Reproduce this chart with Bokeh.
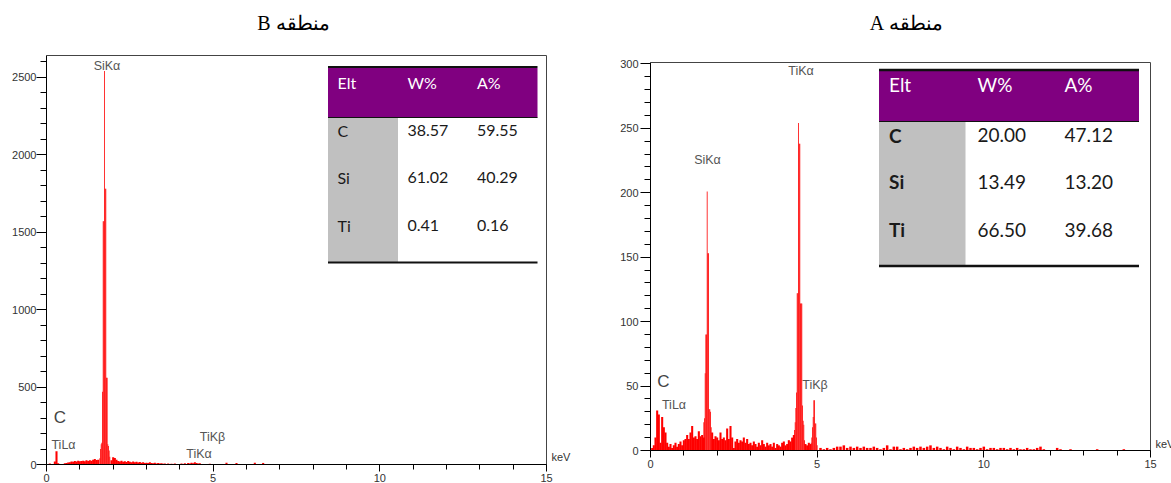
import numpy as np
from bokeh.plotting import figure
from bokeh.layouts import row
from bokeh.models import Range1d, SingleIntervalTicker
from bokeh.core.properties import value
from bokeh.embed import file_html
from bokeh.resources import INLINE

# ---------------- data ----------------
titles = ["منطقه B", "منطقه A"]
table_header = ["Elt", "W%", "A%"]
elements = ["C", "Si", "Ti"]
b_wt = ["38.57", "61.02", "0.41"]
b_at = ["59.55", "40.29", "0.16"]
a_wt = ["20.00", "13.49", "66.50"]
a_at = ["47.12", "13.20", "39.68"]

x_label = "keV"
x_max = 15
b_y_max = 2640
a_y_max = 301

# spectrum B (region B): background channels every 0.05 keV from 0
b_bg_step = 0.05
b_bg_counts = [0, 0, 6, 4, 0, 20, 86, 8, 0, 4, 3, 8, 10, 13, 15, 20, 17, 22, 19, 24,
               21, 23, 25, 21, 27, 23, 28, 25, 30, 36, 29, 30, 0, 0, 0, 0, 0, 0, 0, 28,
               46, 42, 30, 22, 20, 25, 18, 21, 16, 22, 18, 15, 19, 14, 17, 13, 16, 12, 14, 10,
               12, 9, 14, 10, 8, 11, 7, 9, 6, 8, 5, 7, 4, 6, 3, 5, 3, 6, 2, 4,
               3, 6, 2, 8, 4, 10, 6, 12, 8, 14, 10, 6, 8, 3, 0, 2, 0, 0, 5, 0,
               0, 0, 3, 0, 0, 0, 0, 0, 12, 0, 0, 0, 0, 0, 10, 0, 0, 0, 0, 0,
               0, 0, 0, 0, 0, 12, 0, 0, 0, 0, 10]
b_peak_energy = [1.60, 1.62, 1.64, 1.66, 1.68, 1.70, 1.72, 1.74, 1.76, 1.78,
                 1.80, 1.82, 1.84, 1.86, 1.88, 1.90]
b_peak_counts = [40, 100, 130, 140, 470, 1570, 1570, 2540, 1780, 1780,
                 560, 560, 130, 120, 90, 50]

# spectrum A (region A)
a_bg_step = 0.05
a_bg_counts = [0, 2, 4, 10, 31, 28, 6, 26, 18, 14, 6, 3, 5, 2, 4, 6, 3, 5, 7, 4,
               8, 9, 12, 9, 14, 19, 10, 11, 9, 15, 11, 12, 10, 0, 0, 0, 0, 14, 9, 11,
               10, 8, 14, 9, 10, 8, 17, 9, 19, 10, 2, 7, 9, 6, 8, 7, 10, 6, 9, 5,
               6, 4, 7, 5, 3, 6, 4, 8, 5, 3, 6, 4, 5, 3, 6, 2, 5, 4, 3, 6,
               7, 4, 5, 8, 7, 10, 12, 0, 0, 0, 0, 0, 0, 5, 4, 6, 5, 0, 0, 0, 0]
a_tail_start = 5.1
a_tail_step = 0.1
a_tail_counts = [2, 1, 2, 1, 2, 3, 3, 4, 2, 3,
                 2, 3, 2, 3, 2, 2, 3, 2, 1, 2,
                 4, 1, 3, 3, 1, 2, 1, 2, 3, 2,
                 3, 2, 3, 4, 2, 3, 2, 1, 3, 2,
                 1, 3, 2, 1, 3, 2, 2, 1, 2, 3,
                 1, 2, 2, 1, 2, 2, 1, 2, 1, 2,
                 1, 1, 2, 1, 1, 2, 3, 1, 0, 0,
                 0, 2, 1, 0, 0, 1, 0, 0, 0, 0,
                 0, 0, 0, 1, 0, 0, 0, 0, 0, 0,
                 0, 1]
a_peak_energy = [1.60, 1.62, 1.64, 1.66, 1.68, 1.70, 1.72, 1.74, 1.76, 1.78, 1.80, 1.82,
                 4.30, 4.32, 4.34, 4.36, 4.38, 4.40, 4.42, 4.44, 4.46, 4.48, 4.50, 4.52,
                 4.54, 4.56, 4.58, 4.60, 4.62, 4.64,
                 4.82, 4.84, 4.86, 4.88, 4.90, 4.92, 4.94, 4.96, 4.98, 5.00]
a_peak_counts = [22, 25, 60, 90, 90, 201, 153, 153, 32, 32, 30, 18,
                 12, 16, 22, 33, 45, 122, 122, 254, 238, 238, 114, 114,
                 114, 35, 23, 20, 8, 5,
                 6, 10, 18, 26, 39, 39, 21, 21, 10, 4]

b_peak_labels = ["SiKα", "C", "TiLα", "TiKβ", "TiKα"]
a_peak_labels = ["TiKα", "SiKα", "C", "TiLα", "TiKβ"]

RED = "#ff0000"
PURPLE = "#800080"
GREY = "#c0c0c0"
TICK_FONT = "Liberation Sans"
FIG_H = 483


def rtl(s):
    return "\u202b" + s + "\u202c"


def make_panel(width, page_x0, frame_l, frame_r, frame_top, frame_bottom, y_max, y_interval, y_standoff):
    """Figure whose frame covers the whole canvas; axes are pinned at 0."""
    kpx = x_max / (frame_r - frame_l)            # keV per pixel
    cpx = y_max / (frame_bottom - frame_top)     # counts per pixel

    def fx(px):
        return (px - frame_l) * kpx

    def fy(py):
        return (frame_bottom - py) * cpx

    p = figure(width=width, height=FIG_H,
               x_range=Range1d(fx(page_x0), fx(page_x0 + width)),
               y_range=Range1d(fy(FIG_H), fy(0)),
               output_backend="svg", toolbar_location=None,
               min_border_left=0, min_border_right=0, min_border_top=0, min_border_bottom=0)
    p.outline_line_color = None
    p.xgrid.visible = False
    p.ygrid.visible = False
    p.xaxis.fixed_location = 0
    p.yaxis.fixed_location = 0
    p.xaxis.bounds = (0, x_max)
    p.yaxis.bounds = (0, y_max)
    p.xaxis.ticker = SingleIntervalTicker(interval=5, num_minor_ticks=5)
    p.yaxis.ticker = SingleIntervalTicker(interval=y_interval, num_minor_ticks=5)
    for ax in (p.xaxis[0], p.yaxis[0]):
        ax.axis_line_color = "black"
        ax.major_tick_line_color = "black"
        ax.minor_tick_line_color = "black"
        ax.major_tick_in = 0
        ax.minor_tick_in = 0
        ax.major_label_text_font = TICK_FONT
        ax.major_label_text_font_size = "11px"
        ax.major_label_text_color = "#333333"
    p.xaxis.major_tick_out = 7
    p.xaxis.minor_tick_out = 5
    p.xaxis.major_label_standoff = 2
    p.yaxis.major_tick_out = 10
    p.yaxis.minor_tick_out = 6
    p.yaxis.major_label_standoff = y_standoff
    # frame box: top and right edges
    p.segment(x0=[0, x_max], x1=[x_max, x_max], y0=[y_max, 0], y1=[y_max, y_max],
              line_color="#444444", line_width=1)
    return p, fx, fy


def add_table(p, fx, fy, geo, wt, at, font_size, bold):
    (tl, tr, gr, top_line, head_bot, bot_line, head_y, rows_y, cols_x, lw) = geo
    p.quad(left=fx(tl), right=fx(tr), top=fy(top_line + 1), bottom=fy(head_bot),
           fill_color=PURPLE, line_color=None)
    p.quad(left=fx(tl), right=fx(gr), top=fy(head_bot), bottom=fy(bot_line),
           fill_color=GREY, line_color=None)
    ys = [fy(top_line), fy(head_bot), fy(bot_line)]
    p.segment(x0=[fx(tl)] * 3, x1=[fx(tr)] * 3, y0=ys, y1=ys,
              line_width=[lw, 1.2, lw], line_color="#111111")
    fs = "%dpx" % font_size
    p.text(x=[fx(c) for c in cols_x], y=[fy(head_y)] * 3, text=table_header,
           text_font=value("Lato"), text_font_size=fs, text_color="white", text_baseline="middle")
    ry = [fy(v) for v in rows_y]
    p.text(x=[fx(cols_x[0])] * 3, y=ry, text=elements, text_font=value("Lato"), text_font_size=fs,
           text_font_style="bold" if bold else "normal", text_color="#1a1a1a", text_baseline="middle")
    p.text(x=[fx(cols_x[1])] * 3, y=ry, text=wt, text_font=value("Lato"), text_font_size=fs,
           text_color="#1a1a1a", text_baseline="middle")
    p.text(x=[fx(cols_x[2])] * 3, y=ry, text=at, text_font=value("Lato"), text_font_size=fs,
           text_color="#1a1a1a", text_baseline="middle")


def add_texts(p, fx, fy, title_xy, kev_xy, small, big):
    p.text(x=[fx(title_xy[0])], y=[fy(title_xy[1])], text=[title_xy[2]],
           text_font=value("Liberation Serif"), text_font_size="20px", text_color="black",
           text_align="center", text_baseline="middle")
    p.text(x=[fx(kev_xy[0])], y=[fy(kev_xy[1])], text=[x_label],
           text_font=value(TICK_FONT), text_font_size="11px", text_color="#333333",
           text_align="left", text_baseline="middle")
    p.text(x=[fx(s[0]) for s in small], y=[fy(s[1]) for s in small], text=[s[2] for s in small],
           text_font=value(TICK_FONT), text_font_size="12.5px", text_color="#555555",
           text_align="center", text_baseline="middle")
    p.text(x=[fx(big[0])], y=[fy(big[1])], text=[big[2]], text_font=value(TICK_FONT),
           text_font_size="17px", text_color="#444444", text_align="center", text_baseline="middle")


# ---------------- left chart (region B) ----------------
p1, lx, ly = make_panel(590, 0, 46, 546, 55, 464, b_y_max, 500, 0)
b_e = [round(i * b_bg_step, 3) for i in range(len(b_bg_counts))]
p1.vbar(x=b_e, top=b_bg_counts, width=0.062, fill_color=RED, line_color=None)
p1.vbar(x=b_peak_energy, top=b_peak_counts, width=0.024, fill_color=RED, line_color=None)
add_table(p1, lx, ly, (327.5, 537, 397.5, 66.5, 117, 262, 82, [130, 177, 225], [337, 407, 476.5], 2),
          b_wt, b_at, 16, False)
add_texts(p1, lx, ly, (293, 22, rtl(titles[0])), (551, 456),
          [(106.5, 65, b_peak_labels[0]), (212, 436, b_peak_labels[3]),
           (63, 444, b_peak_labels[2]), (198.5, 453, b_peak_labels[4])],
          (59.5, 417, b_peak_labels[1]))

# ---------------- right chart (region A) ----------------
p2, rx, ry = make_panel(581, 590, 650, 1150, 62, 450, a_y_max, 50, 2)
a_e = [round(i * a_bg_step, 3) for i in range(len(a_bg_counts))]
a_t = [round(a_tail_start + i * a_tail_step, 3) for i in range(len(a_tail_counts))]
p2.vbar(x=a_e, top=a_bg_counts, width=0.062, fill_color=RED, line_color=None)
p2.vbar(x=a_t, top=a_tail_counts, width=0.075, fill_color=RED, line_color=None)
p2.vbar(x=a_peak_energy, top=a_peak_counts, width=0.024, fill_color=RED, line_color=None)
add_table(p2, rx, ry, (878.5, 1138.5, 965, 69.5, 121, 265.5, 84, [134.5, 181, 229], [888.5, 977, 1064], 2.5),
          a_wt, a_at, 19, True)
add_texts(p2, rx, ry, (906, 22, rtl(titles[1])), (1155, 443),
          [(800.5, 70, a_peak_labels[0]), (707, 159, a_peak_labels[1]),
           (673.5, 404, a_peak_labels[3]), (814.5, 384, a_peak_labels[4])],
          (663, 381, a_peak_labels[2]))

layout = row(p1, p2)
open("out.html", "w").write(file_html(layout, INLINE))
